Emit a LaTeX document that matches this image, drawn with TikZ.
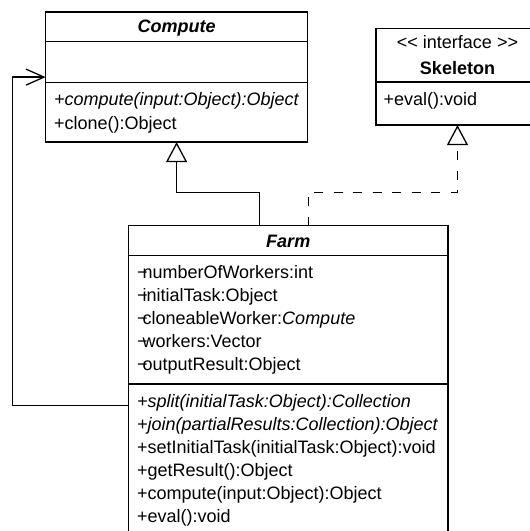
\documentclass[tikz,border=0pt]{standalone}
\usepackage{fontspec}
\setmainfont{Liberation Sans}
\usetikzlibrary{arrows.meta}

\begin{document}
\begin{tikzpicture}[x=1pt,y=-1pt,
  line width=1.3pt,
  every node/.style={inner sep=0pt, outer sep=0pt},
  umlbox/.style={draw, rectangle, line width=1.3pt},
  memberText/.style={anchor=base west, font=\fontsize{18}{22}\selectfont},
  classTitle/.style={anchor=base, font=\fontsize{18}{22}\selectfont\bfseries\itshape},
  stereoText/.style={anchor=base, font=\fontsize{18}{22}\selectfont},
  ifaceTitle/.style={anchor=base, font=\fontsize{18}{22}\selectfont\bfseries},
  genArrow/.style={-{Triangle[length=20pt,width=21pt,fill=white,line width=1.3pt]}},
  realArrow/.style={dash pattern=on 9pt off 10.5pt, -{Triangle[length=20pt,width=21pt,fill=white,line width=1.3pt]}},
  assocArrow/.style={-{Straight Barb[length=18pt,width=16pt,line width=1.3pt]}}
]
% fixed page area; the Skeleton and Farm boxes run past its edges
\useasboundingbox (0,0) rectangle (530,531);
\clip (0,0) rectangle (530,531);

% ---- class Compute ----
\node[umlbox, minimum width=262pt, minimum height=130pt] (compute) at (176.6,77.1) {};
\draw (compute.west |- 0,41.6) -- (compute.east |- 0,41.6);
\draw (compute.west |- 0,82.8) -- (compute.east |- 0,82.8);
\node[classTitle] (computeName) at (176.6,32.4) {Compute};
\node[memberText] (computeOp1) at (54,105.7) {\textit{+compute(input:Object):Object}};
\node[memberText] (computeOp2) at (54,129.4) {+clone():Object};

% ---- interface Skeleton ----
\node[umlbox, minimum width=163pt, minimum height=96.3pt] (skeleton) at (457.5,76.9) {};
\draw (skeleton.west |- 0,82) -- (skeleton.east |- 0,82);
\node[stereoText] (skeletonStereo) at (457.5,48.5) {<\kern0pt< interface >\kern0pt>};
\node[ifaceTitle] (skeletonName) at (457.5,74) {Skeleton};
\node[memberText] (skeletonOp1) at (383.7,105.4) {+eval():void};

% ---- class Farm ----
\node[umlbox, minimum width=319.5pt, minimum height=314pt] (farm) at (288.25,382.8) {};
\draw (farm.west |- 0,255.6) -- (farm.east |- 0,255.6);
\draw (farm.west |- 0,384) -- (farm.east |- 0,384);
\node[classTitle] (farmName) at (288.25,247) {Farm};
\node[memberText] (farmAttr1) at (137,278.7) {\char"2212\kern-5pt numberOfWorkers:int};
\node[memberText] (farmAttr2) at (137,301.7) {\char"2212\kern-5pt initialTask:Object};
\node[memberText] (farmAttr3) at (137,324.7) {\char"2212\kern-5pt cloneableWorker:\textit{Compute}};
\node[memberText] (farmAttr4) at (137,347.7) {\char"2212\kern-5pt workers:Vector};
\node[memberText] (farmAttr5) at (137,370.5) {\char"2212\kern-5pt outputResult:Object};
\node[memberText] (farmOp1) at (137,407.8) {\textit{+split(initialTask:Object):Collection}};
\node[memberText] (farmOp2) at (137,430.8) {\textit{+join(partialResults:Collection):Object}};
\node[memberText] (farmOp3) at (137,453.8) {+setInitialTask(initialTask:Object):void};
\node[memberText] (farmOp4) at (137,476.6) {+getResult():Object};
\node[memberText] (farmOp5) at (137,499.5) {+compute(input:Object):Object};
\node[memberText] (farmOp6) at (137,522.5) {+eval():void};

% ---- relations ----
\coordinate (genBend) at (259.6,192.3);
\draw[genArrow] (farm.north -| genBend) -- (genBend) -| (compute.south);

\coordinate (realBend) at (308.7,192.3);
\draw[realArrow] (farm.north -| realBend) -- (realBend) -| (skeleton.south);

\coordinate (assocCorner) at (12.2,405.7);
\draw[assocArrow] (farm.west |- assocCorner) -- (assocCorner) |- (compute.west);
\end{tikzpicture}
\end{document}
